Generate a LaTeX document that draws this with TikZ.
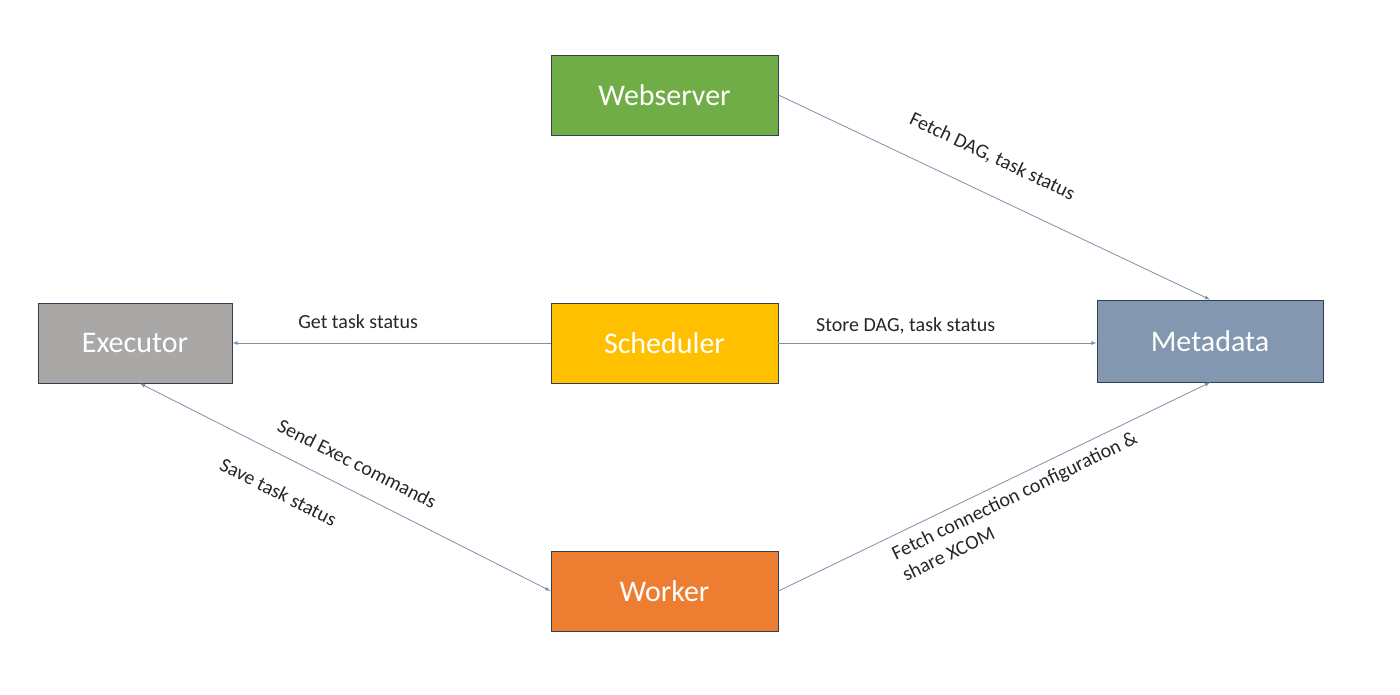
\documentclass[tikz,border=0pt]{standalone}
\usepackage{fontspec}
\setmainfont{Carlito}
\usetikzlibrary{arrows,positioning}
\definecolor{webgreen}{HTML}{70AD47}
\definecolor{schedyellow}{HTML}{FFC000}
\definecolor{workorange}{HTML}{ED7D31}
\definecolor{execgray}{HTML}{A9A8A7}
\definecolor{metablue}{HTML}{8497B0}
\definecolor{boxedge}{HTML}{2F3F58}
\definecolor{linkblue}{HTML}{7F8FA8}
\begin{document}
\begin{tikzpicture}[x=1pt,y=-1pt,>=latex,
	compbox/.style={rectangle,draw=boxedge,line width=0.9pt,text=white,minimum width=227pt,minimum height=80pt,font=\fontsize{30}{34}\selectfont},
	link/.style={->,draw=linkblue,line width=0.8pt},
	linklabel/.style={font=\fontsize{20}{24}\selectfont,text=black!85,inner sep=1pt}]
		\useasboundingbox (0,0) rectangle (1400,695);
		\node [compbox,fill=webgreen] (web) at (664.5, 95) {Webserver};
		\node [compbox,fill=schedyellow] (sched) at (664.5, 343) {Scheduler};
		\node [compbox,fill=workorange] (work) at (664.5, 591) {Worker};
		\node [compbox,fill=execgray,minimum width=194pt] (exec) at (135, 343) {Executor};
		\node [compbox,fill=metablue,minimum width=226pt,minimum height=82pt] (meta) at (1210, 341) {Metadata};
		\draw[link] (web.east) to node[linklabel,sloped,above=26pt,pos=0.46] (fetchdag) {Fetch DAG, task status} (meta.north);
		\draw[link] (sched.west) to node[linklabel,above=13pt,pos=0.605] (gettask) {Get task status} (exec.east);
		\draw[link] (sched.east) to node[linklabel,above=8pt,pos=0.40] (storedag) {Store DAG, task status} (sched.east -| meta.west);
		\draw[link,<->] ([xshift=5pt]exec.south) to node[linklabel,sloped,above=18pt,pos=0.5] (sendexec) {Send Exec commands} node[linklabel,sloped,below=26pt,pos=0.375] (savetask) {Save task status} (work.west);
		\draw[link] (work.east) to node[linklabel,sloped,below=8pt,pos=0.53,align=left] (fetchconn) {Fetch connection configuration \&\\share XCOM} (meta.south);
	\end{tikzpicture}
\end{document}
